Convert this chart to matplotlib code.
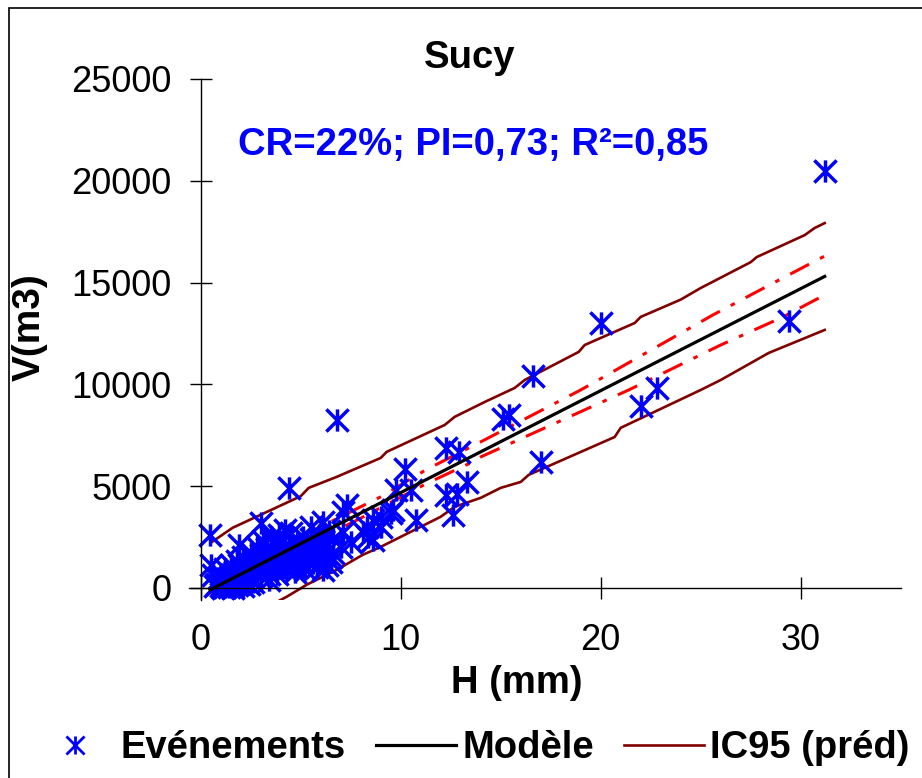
import numpy as np
import matplotlib.pyplot as plt
from matplotlib.path import Path
from matplotlib.lines import Line2D
from matplotlib.patches import Rectangle

plt.rcParams['font.family'] = ['Liberation Sans', 'DejaVu Sans']

# Evénements (H en mm, V en m3)
H_evt = [31.2, 29.4, 20.0, 16.6, 15.1, 15.4, 17.0, 22.0, 22.8, 6.8, 4.4, 0.45,
         12.25, 12.9, 10.2, 13.3, 12.25, 12.8, 12.6, 10.75, 10.5, 9.75,
         9.5, 9.0, 8.6, 8.3, 8.6, 8.1, 7.5, 7.3, 7.1, 7.0, 6.6, 6.5,
         3.0, 1.9, 0.5, 0.6, 6.1, 5.5, 4.2, 6.1, 7.1, 9.6, 9.0, 8.35,
         0.8, 0.9, 1.0, 1.0, 1.1, 1.2, 1.2, 1.3, 1.4, 1.5, 1.5, 1.6, 1.7,
         1.8, 1.8, 1.9, 2.0, 2.0, 2.1, 2.2, 2.3, 2.3, 2.4, 2.5, 2.5, 2.6,
         2.7, 2.8, 2.8, 2.9, 3.0, 3.0, 3.1, 3.2, 3.3, 3.3, 3.4, 3.5, 3.5,
         3.6, 3.7, 3.7, 3.8, 3.9, 4.0, 4.0, 4.1, 4.2, 4.3, 4.4, 4.5, 4.5,
         4.6, 4.8, 4.9, 5.0, 5.0, 5.1, 5.2, 5.3, 5.4, 5.5, 5.5, 5.6, 5.7,
         5.8, 5.9, 6.0, 6.0, 6.1, 6.2, 6.3, 6.4, 6.5, 6.6, 1.1, 1.4, 2.1,
         2.6, 3.4, 4.7, 5.2, 5.8, 6.3, 0.7, 1.6, 2.4, 3.8, 4.6]
V_evt = [20500, 13100, 13000, 10400, 8300, 8500, 6190, 8940, 9820, 8250, 4910, 2600,
         6870, 6680, 5840, 5200, 4570, 4620, 3580, 3340, 4810, 4810,
         3680, 3490, 3340, 3000, 2360, 2750, 2260, 4080, 3730, 2010, 1720, 1280,
         3190, 2110, 1130, 640, 3240, 3000, 2850, 880, 2750, 3830, 3000, 2500,
         200, 500, 100, 700, 300, 900, 50, 450, 200, 1100, 600, 300, 800,
         1300, 150, 600, 1000, 400, 1500, 700, 300, 1200, 900, 1700, 500, 1100,
         1400, 800, 2000, 1200, 600, 1600, 2300, 1000, 1400, 1900, 700, 1200, 2500,
         1700, 1000, 2100, 1400, 2600, 1800, 1100, 2300, 1500, 900, 2000, 1300, 2700,
         1700, 2200, 1500, 1900, 1200, 2500, 1700, 2100, 1400, 2400, 1800, 1200, 2200,
         1600, 2600, 1900, 1300, 2300, 1700, 2100, 2800, 1500, 2400, 0, 50, 100,
         300, 400, 800, 900, 1000, 1100, 100, 0, 200, 700, 1000]

# Modèle
H_mod = [0.47, 31.2]
V_mod = [-100, 15300]

# IC95 prédiction
H_ic_sup = [0.5, 1.3, 1.6, 5.0, 5.4, 6.8, 9.0, 9.3, 12.2, 12.7, 14.2, 15.7, 16.2,
            18.9, 19.2, 21.7, 22.0, 24.0, 25.0, 27.5, 27.8, 30.2, 30.7, 31.2]
V_ic_sup = [2210, 2750, 2950, 4500, 4910, 5450, 6380, 6680, 8000, 8400, 9130, 9820, 10210,
            11590, 11930, 13010, 13310, 14160, 14730, 16000, 16250, 17330, 17680, 17920]
H_ic_inf = [0.5, 4.3, 5.3, 6.8, 8.1, 9.0, 12.0, 12.7, 14.0, 15.0, 16.0, 16.4,
            20.7, 21.0, 25.0, 26.0, 28.4, 31.2]
V_ic_inf = [-2400, -440, 150, 880, 1620, 2010, 3490, 3980, 4420, 4910, 5200, 5550,
            7410, 7860, 9720, 10210, 11540, 12670]

# IC95 moyenne (pointillés rouges)
H_moy_sup = [0.5, 3.0, 6.0, 8.0, 9.0, 11.25, 14.0, 19.0, 25.6, 29.1, 31.2]
V_moy_sup = [400, 1450, 3000, 3980, 4470, 5790, 7170, 9720, 13400, 15220, 16300]
H_moy_inf = [0.5, 3.0, 6.0, 8.0, 11.25, 13.5, 14.0, 21.4, 26.0, 29.1, 31.2]
V_moy_inf = [-350, 900, 2420, 3420, 5100, 6140, 6430, 9720, 11930, 13300, 14390]

# marqueur étoile type Excel : X + barre verticale
etoile = Path([(-1, -1), (1, 1), (-1, 1), (1, -1), (0, -1), (0, 1)],
              [Path.MOVETO, Path.LINETO, Path.MOVETO, Path.LINETO, Path.MOVETO, Path.LINETO])

fig = plt.figure(figsize=(9.22, 7.78), dpi=100)
ax = fig.add_axes([188.7 / 922, 1 - 600 / 778, 712 / 922, 521 / 778])

ax.plot(H_ic_sup, V_ic_sup, color='#800000', lw=1.9)
ax.plot(H_ic_inf, V_ic_inf, color='#800000', lw=1.9)
ax.plot(H_moy_sup, V_moy_sup, color='#ff0000', lw=2.2, linestyle=(0, (7, 4, 1.5, 4)))
ax.plot(H_moy_inf, V_moy_inf, color='#ff0000', lw=2.2, linestyle=(0, (7, 4, 1.5, 4)))
ax.plot(H_evt, V_evt, linestyle='none', marker=etoile, markersize=16,
        markeredgewidth=2.5, color='#0000ff', fillstyle='none')
ax.plot(H_mod, V_mod, color='black', lw=2.3)

ax.set_xlim(-0.6, 35)
ax.set_ylim(-600, 25000)
ax.set_xticks([0, 10, 20, 30])
ax.set_yticks([0, 5000, 10000, 15000, 20000, 25000])
ax.spines['top'].set_visible(False)
ax.spines['right'].set_visible(False)
ax.spines['bottom'].set_position(('data', 0))
ax.spines['left'].set_position(('data', 0))
ax.spines['left'].set_linewidth(1)
ax.spines['bottom'].set_linewidth(1)
ax.tick_params(direction='inout', length=16, width=1, labelsize=26)
ax.tick_params(axis='x', pad=17)
ax.tick_params(axis='y', pad=13)

fig.text(470 / 922, 1 - 58 / 778, 'Sucy', ha='center', va='center',
         fontsize=27.5, fontweight='bold')
fig.text(473 / 922, 1 - 145 / 778, 'CR=22%; PI=0,73; R²=0,85', ha='center', va='center',
         fontsize=27.5, fontweight='bold', color='#0000ff')
fig.text(517 / 922, 1 - 683 / 778, 'H (mm)', ha='center', va='center',
         fontsize=27.5, fontweight='bold')
fig.text(30 / 922, 1 - 327 / 778, 'V(m3)', ha='center', va='center', rotation=90,
         fontsize=28, fontweight='bold')

handles = [Line2D([], [], linestyle='none', marker=etoile, markersize=13,
                  markeredgewidth=2.0, color='#0000ff', fillstyle='none'),
           Line2D([], [], color='black', lw=2.3),
           Line2D([], [], color='#800000', lw=1.9)]
fig.legend(handles, ['Evénements', 'Modèle', 'IC95 (préd)'], loc='center',
           bbox_to_anchor=(472 / 922, 1 - 748 / 778), ncol=3, frameon=False,
           prop={'size': 27.5, 'weight': 'bold'}, handlelength=2.1,
           handletextpad=0.15, columnspacing=0.8, borderaxespad=0)

fig.add_artist(Rectangle((9 / 922, -0.1), 1.2, 1 - 8 / 778 + 0.1, transform=fig.transFigure,
                         fill=False, edgecolor='black', lw=1.2))

fig.savefig('out.png', dpi=100)
